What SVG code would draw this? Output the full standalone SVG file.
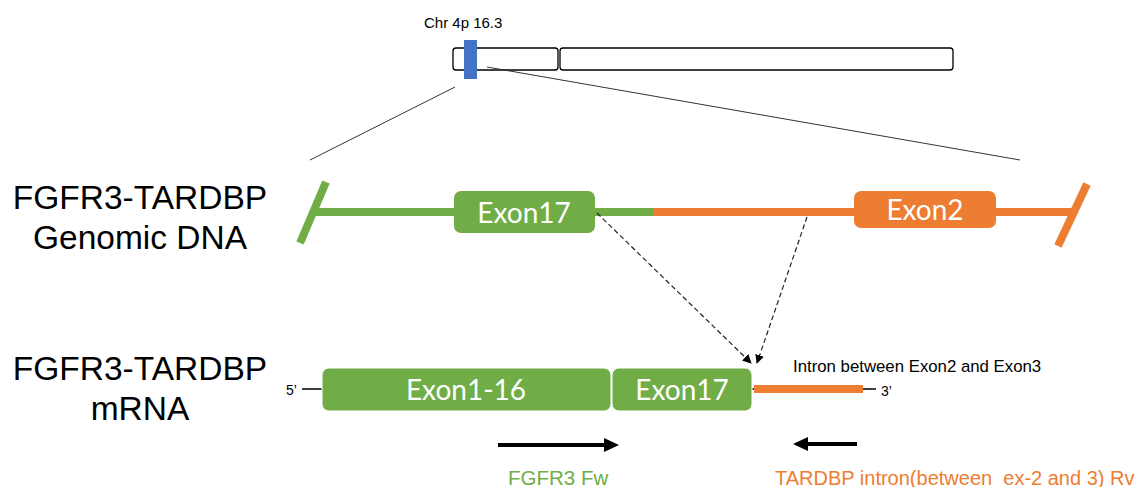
<svg xmlns="http://www.w3.org/2000/svg" width="1138" height="487" viewBox="0 0 1138 487">
<style>
.lbl{font-family:"Liberation Sans",Arial,sans-serif;fill:#000}
.ex{font-family:Lato,"Open Sans",sans-serif;fill:#fff;font-size:28px;text-anchor:middle}
.g{fill:#70AD47}
.o{fill:#ED7D31}
.gl{stroke:#70AD47;stroke-width:8;fill:none}
.ol{stroke:#ED7D31;stroke-width:8;fill:none}
.thin{stroke:#000;stroke-width:1.5;fill:none}
.dash{stroke:#222;stroke-width:1.2;stroke-dasharray:5 3;fill:none}
.zoom{stroke:#333;stroke-width:1;fill:none}
.primer{stroke:#000;stroke-width:4;fill:none}
</style>
<defs>
<marker id="ah" viewBox="0 0 10 10" refX="9" refY="5" markerWidth="9" markerHeight="9" markerUnits="userSpaceOnUse" orient="auto">
<path d="M0,0 L10,5 L0,10 z" fill="#000"/>
</marker>
</defs>
<rect width="1138" height="487" fill="#fff"/>

<g id="chromosome">
<text class="lbl" x="424" y="28" font-size="15">Chr 4p 16.3</text>
<rect x="453" y="48" width="105" height="22" rx="3" fill="#fff" stroke="#000" stroke-width="1.3"/>
<rect x="560" y="48" width="393" height="22" rx="3" fill="#fff" stroke="#000" stroke-width="1.3"/>
<rect x="464" y="40" width="13" height="39" fill="#4472C4"/>
</g>

<g id="zoom-lines">
<line class="zoom" x1="455" y1="87" x2="310" y2="160"/>
<line class="zoom" x1="487" y1="67" x2="1020" y2="160"/>
</g>

<g id="label-genomic">
<text class="lbl" font-size="33.5" text-anchor="middle"><tspan x="140" y="209">FGFR3-TARDBP</tspan><tspan x="140" y="249">Genomic DNA</tspan></text>
</g>
<g id="label-mrna">
<text class="lbl" font-size="33.5" text-anchor="middle"><tspan x="140" y="380">FGFR3-TARDBP</tspan><tspan x="140" y="420">mRNA</tspan></text>
</g>

<g id="genomic-dna">
<line class="gl" x1="326" y1="182" x2="300" y2="243"/>
<line class="gl" x1="313" y1="212" x2="654" y2="212"/>
<line class="ol" x1="654" y1="212" x2="1073" y2="212"/>
<line class="ol" x1="1087" y1="184" x2="1058" y2="246"/>
</g>
<g id="g-exon17">
<rect class="g" x="454" y="191" width="141" height="42" rx="7"/>
<text class="ex" x="524" y="223">Exon17</text>
</g>
<g id="g-exon2">
<rect class="o" x="854" y="191" width="142" height="37" rx="7"/>
<text class="ex" x="925" y="220">Exon2</text>
</g>

<g id="mrna">
<text class="lbl" x="286" y="395" font-size="14">5’</text>
<line class="thin" x1="302" y1="389" x2="322" y2="389"/>
<line class="thin" x1="751" y1="389" x2="756" y2="389"/>
<line class="ol" x1="754" y1="389" x2="863" y2="389"/>
<line class="thin" x1="863" y1="389" x2="876" y2="389"/>
<text class="lbl" x="881" y="396" font-size="14">3’</text>
<text class="lbl" x="793" y="372" font-size="16.8">Intron between Exon2 and Exon3</text>
</g>
<g id="m-exon1-16">
<rect class="g" x="322" y="368" width="289" height="43" rx="7" stroke="#fff" stroke-width="1"/>
<text class="ex" x="466" y="400">Exon1-16</text>
</g>
<g id="m-exon17">
<rect class="g" x="612" y="368" width="140" height="43" rx="7" stroke="#fff" stroke-width="1"/>
<text class="ex" x="682" y="400">Exon17</text>
</g>

<g id="connectors">
<line class="dash" x1="597" y1="213" x2="751" y2="363" marker-end="url(#ah)"/>
<line class="dash" x1="807" y1="217" x2="757" y2="363" marker-end="url(#ah)"/>
</g>

<g id="primer-fw">
<line class="primer" x1="498" y1="445" x2="606" y2="445"/>
<path d="M604,438 L619,445 L604,452 z" fill="#000"/>
<text x="508" y="485" font-size="20.5" font-family="Liberation Sans,Arial,sans-serif" fill="#70AD47">FGFR3 Fw</text>
</g>
<g id="primer-rv">
<line class="primer" x1="806" y1="444" x2="857" y2="444"/>
<path d="M808,437 L793,444 L808,451 z" fill="#000"/>
<text x="775" y="485" font-size="20" font-family="Liberation Sans,Arial,sans-serif" fill="#ED7D31" xml:space="preserve">TARDBP intron(between  ex-2 and 3) Rv</text>
</g>
</svg>
